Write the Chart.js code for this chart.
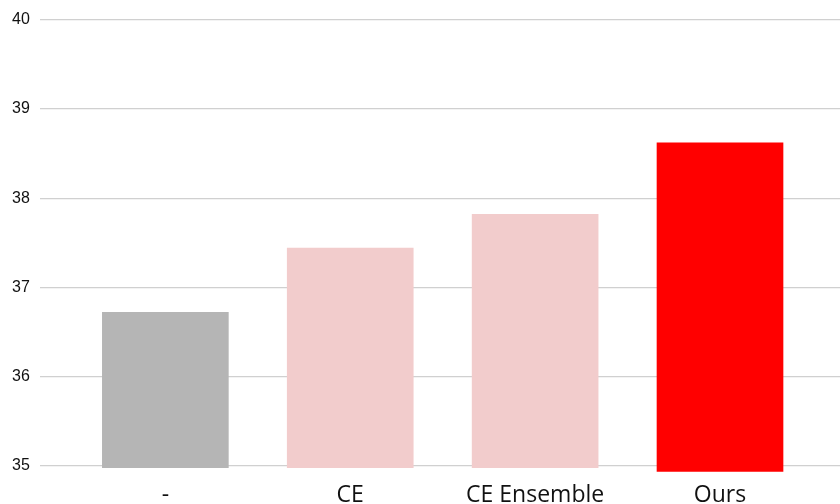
<!DOCTYPE html>
<html>
<head>
<meta charset="utf-8">
<script src="https://cdn.jsdelivr.net/npm/chart.js@4.4.1/dist/chart.umd.min.js"></script>
<style>
  html, body { margin: 0; padding: 0; background: #fff; }
  #wrap { width: 840px; height: 504px; }
</style>
</head>
<body>
<div id="wrap"><canvas id="chart"></canvas></div>
<script>
// values
const categories = ["-", "CE", "CE Ensemble", "Ours"];
const scores = [36.72, 37.44, 37.82, 38.62];
const bases = [34.98, 34.98, 34.98, 34.94]; // bars start a hair under the 35 line
const barColors = ["#b5b5b5", "#f2cccc", "#f2cccc", "#ff0000"];
const yTicks = [35, 36, 37, 38, 39, 40];

const ctx = document.getElementById("chart").getContext("2d");

new Chart(ctx, {
  type: "bar",
  data: {
    datasets: [
      {
        data: categories.map((c, i) => ({ x: i, y: [bases[i], scores[i]] })),
        backgroundColor: barColors,
        borderWidth: 0,
        barThickness: 126,
        clip: false,
      },
    ],
  },
  options: {
    responsive: true,
    maintainAspectRatio: false,
    animation: false,
    devicePixelRatio: 1,
    layout: { padding: { left: 12, top: 18, right: 0, bottom: 0 } },
    plugins: {
      legend: { display: false },
      tooltip: { enabled: false },
    },
    scales: {
      x: {
        type: "linear",
        offset: false,
        min: -0.678,
        max: 3.649,
        grid: { display: false, drawTicks: false },
        border: { display: false },
        afterBuildTicks: (s) => {
          s.ticks = categories.map((c, i) => ({ value: i }));
        },
        afterFit: (s) => { s.height = 38; },
        ticks: {
          padding: 16,
          color: "#111",
          font: { family: "'Open Sans'", size: 23 },
          callback: (v) => categories[v],
        },
      },
      y: {
        min: 35,
        max: 40,
        afterFit: (s) => { s.width = 28; },
        afterBuildTicks: (s) => {
          s.ticks = yTicks.map((v) => ({ value: v }));
        },
        grid: { color: "#d0d0d0", lineWidth: 1.3, drawTicks: false },
        border: { display: false },
        ticks: {
          crossAlign: "far",
          padding: 10,
          color: "#111",
          font: { family: "'Liberation Sans'", size: 16 },
        },
      },
    },
  },
});
</script>
</body>
</html>
